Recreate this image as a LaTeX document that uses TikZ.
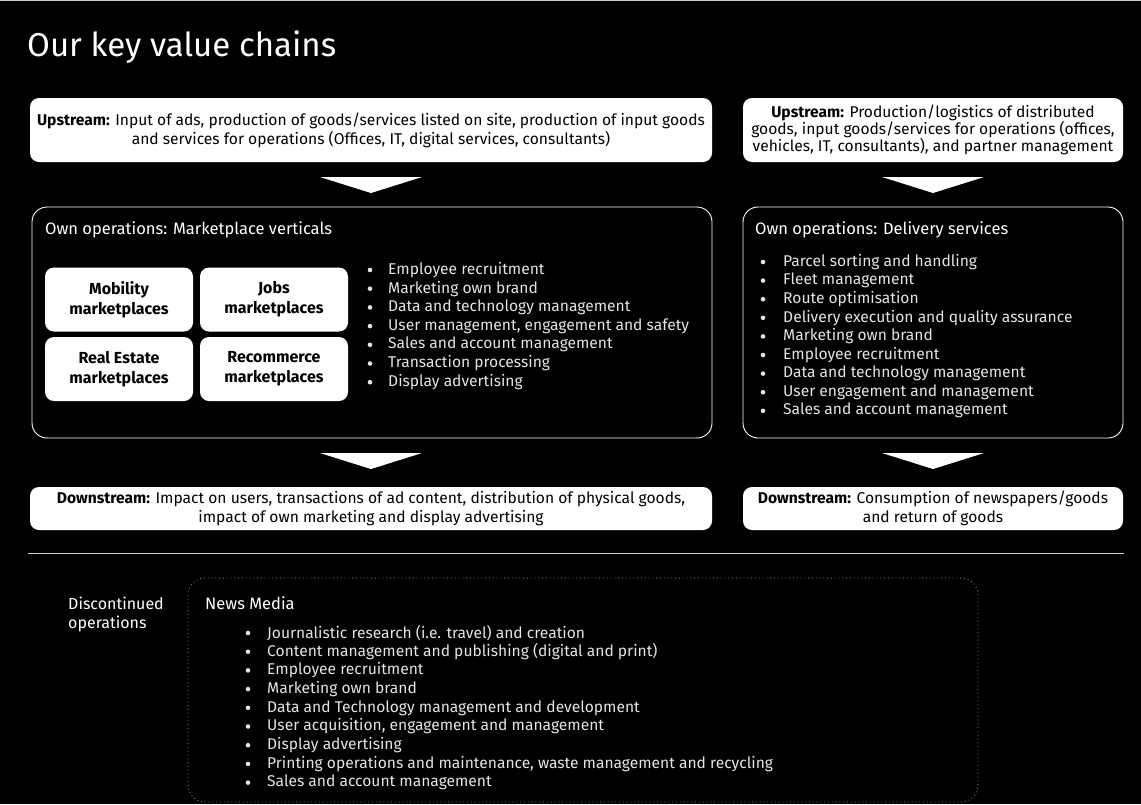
\documentclass[tikz,border=0pt]{standalone}
\usepackage{fontspec}
\setmainfont{Fira Sans}
\usetikzlibrary{positioning, calc}
\definecolor{pageblack}{RGB}{0, 0, 0}
\definecolor{listwhite}{RGB}{228, 228, 228}
\definecolor{rulegray}{RGB}{200, 200, 200}
\definecolor{dotgray}{RGB}{170, 170, 170}
\newcommand{\lbl}[1]{\textbf{#1}}

\begin{document}
\begin{tikzpicture}[x=1pt, y=-1pt,
  chainbox/.style={fill=white, rounded corners=9pt, inner sep=0pt, align=center, text=black},
  opsbox/.style={draw=white, line width=0.9pt, rounded corners=15pt, inner sep=0pt},
  vertbox/.style={fill=white, rounded corners=9pt, inner sep=0pt, minimum width=148pt, minimum height=64pt,
    align=center, text=black, font=\fontsize{16}{20}\selectfont\bfseries},
  opstitle/.style={anchor=west, inner sep=0pt, text=white, font=\fontsize{16.5}{19}\selectfont},
  item/.style={anchor=west, inner sep=0pt, text=listwhite, font=\fontsize{15.6}{18}\selectfont},
  chevron/.style={fill=white}
]
 % Page
 \fill[pageblack] (0,0) rectangle (1141,804);
 \useasboundingbox (0,0) rectangle (1141,804);
 \draw[rulegray, line width=1.2pt] (0,0.6) -- (1141,0.6);

 % Title
 \node[anchor=west, inner sep=0pt, text=white, font=\fontsize{33}{38}\selectfont] (title) at (27,47) {Our key value chains};

 % Upstream
 \node[chainbox, minimum width=682pt, minimum height=64pt, font=\fontsize{15.6}{19}\selectfont] (upL) at (371,130)
  {\lbl{Upstream:} Input of ads, production of goods/services listed on site, production of input goods\\
   and services for operations (Offices, IT, digital services, consultants)};
 \node[chainbox, minimum width=380pt, minimum height=64pt, font=\fontsize{15.6}{16.8}\selectfont] (upR) at (933,130)
  {\lbl{Upstream:} Production/logistics of distributed\\
   goods, input goods/services for operations (offices,\\
   vehicles, IT, consultants), and partner management};

 % Chevrons between the stages
 \foreach \cx/\cy in {371/177, 933/177, 371/453, 933/453} {
  \fill[chevron] (\cx-51,\cy) -- (\cx+51,\cy) -- (\cx,\cy+16) -- cycle;
 }

 % Own operations: marketplaces
 \node[opsbox, minimum width=680pt, minimum height=231pt] (opsL) at (372,322.5) {};
 \node[opstitle] (opsLtitle) at (45,230) {Own operations: Marketplace verticals};
 \node[vertbox] (mobility) at (119,299.5) {Mobility\\marketplaces};
 \node[vertbox] (jobs) at (274,299.5) {Jobs\\marketplaces};
 \node[vertbox] (realestate) at (119,369) {Real Estate\\marketplaces};
 \node[vertbox] (recommerce) at (274,369) {Recommerce\\marketplaces};
 \foreach \txt [count=\i] in {Employee recruitment, Marketing own brand, Data and technology management,
   {User management, engagement and safety}, Sales and account management, Transaction processing,
   Display advertising} {
  \fill[listwhite] (370,{270+18.7*(\i-1)}) circle (2.3);
  \node[item] (mkt\i) at (388,{270+18.7*(\i-1)}) {\txt};
 }

 % Own operations: delivery
 \node[opsbox, minimum width=380pt, minimum height=231pt] (opsR) at (933,322.5) {};
 \node[opstitle] (opsRtitle) at (755,230) {Own operations: Delivery services};
 \foreach \txt [count=\i] in {Parcel sorting and handling, Fleet management, Route optimisation,
   Delivery execution and quality assurance, Marketing own brand, Employee recruitment,
   Data and technology management, User engagement and management, Sales and account management} {
  \fill[listwhite] (763,{262+18.6*(\i-1)}) circle (2.3);
  \node[item] (dlv\i) at (783,{262+18.6*(\i-1)}) {\txt};
 }

 % Downstream
 \node[chainbox, minimum width=682pt, minimum height=43pt, font=\fontsize{15.6}{19.5}\selectfont] (downL) at (371,508.5)
  {\lbl{Downstream:} Impact on users, transactions of ad content, distribution of physical goods,\\
   impact of own marketing and display advertising};
 \node[chainbox, minimum width=380pt, minimum height=43pt, font=\fontsize{15.6}{19.5}\selectfont] (downR) at (933,508.5)
  {\lbl{Downstream:} Consumption of newspapers/goods\\and return of goods};

 % Separator
 \draw[rulegray, line width=0.8pt] (28,553) -- (1124,553);

 % Discontinued operations
 \node[anchor=west, inner sep=0pt, align=left, text=white, font=\fontsize{16}{19}\selectfont] (disc) at (68,614.5)
  {Discontinued\\operations};
 \draw[dotgray, line width=0.7pt, dash pattern=on 0.8pt off 3pt, rounded corners=17pt] (188,578) rectangle (978,802);
 \node[opstitle] (news) at (205,603) {News Media};
 \foreach \txt [count=\i] in {Journalistic research (i.e. travel) and creation,
   Content management and publishing (digital and print), Employee recruitment, Marketing own brand,
   Data and Technology management and development, {User acquisition, engagement and management},
   Display advertising, {Printing operations and maintenance, waste management and recycling},
   Sales and account management} {
  \fill[listwhite] (248,{633+18.7*(\i-1)}) circle (2.3);
  \node[item] (news\i) at (267,{633+18.7*(\i-1)}) {\txt};
 }
\end{tikzpicture}
\end{document}
